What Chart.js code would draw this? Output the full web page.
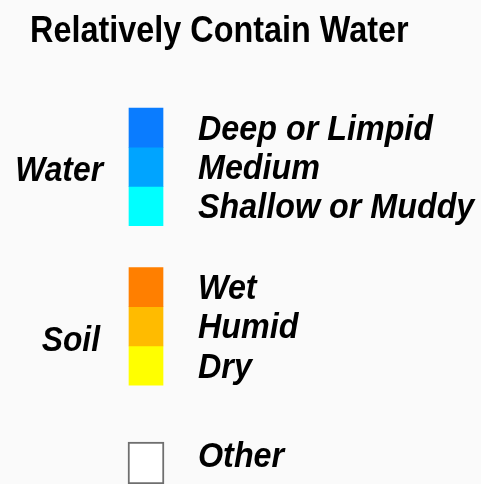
<!DOCTYPE html>
<html>
<head>
<meta charset="utf-8">
<script src="https://cdn.jsdelivr.net/npm/chart.js@4/dist/chart.umd.min.js"></script>
<style>
  html, body { margin: 0; padding: 0; background: #fafafa; }
  #c { display: block; }
</style>
</head>
<body>
<canvas id="c" width="481" height="484"></canvas>
<script>
// ---- data ----
const titleText = 'Relatively Contain Water';
const groupNames = ['Water', 'Soil', ''];
const waterClasses = ['Deep or Limpid', 'Medium', 'Shallow or Muddy'];
const waterColors = ['#0a7cff', '#00a4ff', '#00ffff'];
const soilClasses = ['Wet', 'Humid', 'Dry'];
const soilColors = ['#ff7f00', '#ffbb00', '#ffff00'];
const otherClasses = ['Other'];
const otherColors = ['#ffffff'];

// ---- build datasets (row units on a hidden scale) ----
const groupClasses = [waterClasses, soilClasses, otherClasses];
const groupColors = [waterColors, soilColors, otherColors];
const gapBefore = [0, 1.07, 1.45];   // spacing between groups, in rows
const rowSize = [1, 1, 1.07];        // swatch height, in rows
const groupLabelNudge = [14, 25, 0]; // label baseline below group middle, px

const datasets = [];
const groupSpans = [];
let cursor = 0;
groupClasses.forEach((cls, g) => {
  cursor += gapBefore[g];
  const gStart = cursor;
  cls.forEach((name, i) => {
    const s = cursor, e = cursor + rowSize[g];
    const isOther = g === 2;
    datasets.push({
      label: name,
      data: [[s, e]],
      backgroundColor: groupColors[g][i],
      borderColor: isOther ? '#6f6f6f' : groupColors[g][i],
      borderWidth: isOther ? 2 : 0,
      borderSkipped: false,
      barPercentage: 1,
      categoryPercentage: 1,
      barThickness: isOther ? 36 : undefined,
      grouped: false,
      clip: false,
      _group: g
    });
    cursor = e;
  });
  groupSpans.push([gStart, cursor]);
});
const totalRows = cursor;

function drawStretched(ctx, text, x, y, font, align, sy) {
  ctx.save();
  ctx.font = font;
  ctx.textAlign = align;
  ctx.textBaseline = 'alphabetic';
  ctx.fillStyle = '#000';
  ctx.scale(1, sy);
  ctx.fillText(text, x, y / sy);
  ctx.restore();
}

const bgPlugin = {
  id: 'bg',
  beforeDraw(chart) {
    const {ctx, width, height} = chart;
    ctx.save();
    ctx.fillStyle = '#fafafa';
    ctx.fillRect(0, 0, width, height);
    ctx.restore();
  }
};

const textPlugin = {
  id: 'legendText',
  afterDatasetsDraw(chart) {
    const {ctx, chartArea, scales} = chart;
    const y = scales.y;
    const itemFont = 'italic bold 32.3px "Liberation Sans", Arial, sans-serif';
    const groupFont = 'italic bold 31.8px "Liberation Sans", Arial, sans-serif';
    const sy = 1.1;
    // title
    drawStretched(ctx, titleText, 30, 42, 'bold 32.4px "Liberation Sans", Arial, sans-serif', 'left', 1.13);
    // class labels
    chart.data.datasets.forEach(ds => {
      const [s, e] = ds.data[0];
      const cy = y.getPixelForValue((s + e) / 2);
      const off = ds._group === 2 ? 4 : 12;
      drawStretched(ctx, ds.label, chartArea.right + 35, cy + off, itemFont, 'left', sy);
    });
    // group labels
    groupNames.forEach((name, g) => {
      if (!name) return;
      const [s, e] = groupSpans[g];
      const cy = y.getPixelForValue((s + e) / 2);
      drawStretched(ctx, name, chartArea.left - 26 - (g === 1 ? 3 : 0), cy + groupLabelNudge[g], groupFont, 'right', sy);
    });
  }
};

new Chart(document.getElementById('c'), {
  type: 'bar',
  data: { labels: [''], datasets },
  options: {
    responsive: false,
    animation: false,
    layout: { padding: { left: 129, right: 318, top: 108, bottom: 0 } },
    scales: {
      x: { display: false, offset: true },
      y: { display: false, reverse: true, min: 0, max: totalRows }
    },
    plugins: {
      legend: { display: false },
      title: { display: false },
      tooltip: { enabled: false }
    }
  },
  plugins: [bgPlugin, textPlugin]
});
</script>
</body>
</html>
